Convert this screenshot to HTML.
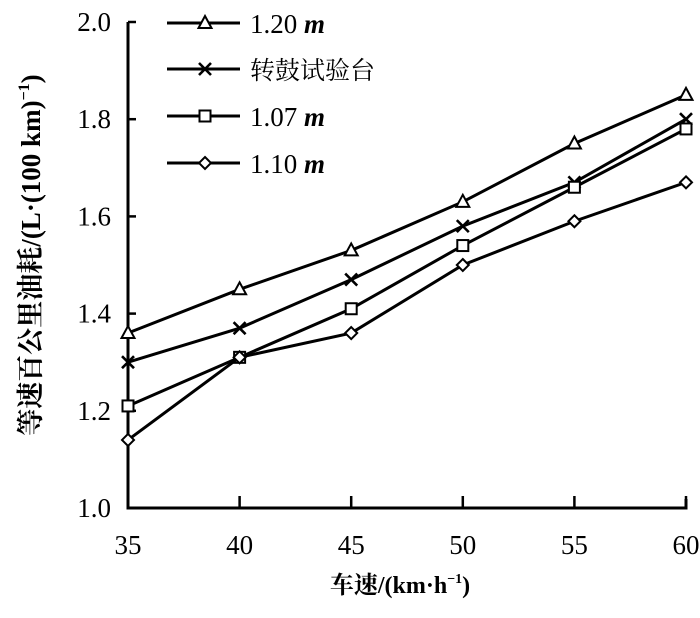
<!DOCTYPE html>
<html><head><meta charset="utf-8"><style>
html,body{margin:0;padding:0;background:#fff;}
svg text{font-family:"Liberation Serif","Noto Serif CJK SC",serif;fill:#000;}
</style></head><body>
<svg id="chart" width="700" height="613" viewBox="0 0 700 613" xmlns="http://www.w3.org/2000/svg">
<g id="axes"></g>
<g id="series"></g>
<g id="legend"></g>
<text x="400" y="593" font-size="24" font-weight="bold" text-anchor="middle">车速/(km·h<tspan font-size="14" dy="-10">−1</tspan><tspan dy="10">)</tspan></text>
<text transform="translate(40,255) rotate(-90)" font-size="27" font-weight="bold" text-anchor="middle">等速百公里油耗/(L·(100 km)<tspan font-size="16" dy="-11">−1</tspan><tspan dy="11">)</tspan></text>
</svg>
<script>
const xCategories = [35, 40, 45, 50, 55, 60];
const yTicks = [1.0, 1.2, 1.4, 1.6, 1.8, 2.0];
const yTickLabels = ["1.0", "1.2", "1.4", "1.6", "1.8", "2.0"];
const s120 = [1.36, 1.45, 1.53, 1.63, 1.75, 1.85];
const sDrum = [1.30, 1.37, 1.47, 1.58, 1.67, 1.80];
const s107 = [1.21, 1.31, 1.41, 1.54, 1.66, 1.78];
const s110 = [1.14, 1.31, 1.36, 1.50, 1.59, 1.67];
const seriesNames = ["1.20 m", "转鼓试验台", "1.07 m", "1.10 m"];

const NS = "http://www.w3.org/2000/svg";
const X0 = 128, X1 = 686, Y0 = 508, Y1 = 22;
function xs(v){ return X0 + (v - 35) / 25 * (X1 - X0); }
function ys(v){ return Y0 - (v - 1.0) / 1.0 * (Y0 - Y1); }
function mk(tag, attrs, parent){ const e = document.createElementNS(NS, tag); for (const k in attrs) e.setAttribute(k, attrs[k]); parent.appendChild(e); return e; }

const axes = document.getElementById('axes');
let a = mk('path', {d:`M${X0} ${Y1} V${Y0} H${X1} V${Y0-9}`, fill:'none', stroke:'#000', 'stroke-width':3}, axes);


yTicks.forEach((v, i) => {
  const y = ys(v);
  const t = mk('line', {x1:X0, x2:X0+8, y1:y, y2:y, stroke:'#000', 'stroke-width':2.5}, axes);
  
  
  const l = mk('text', {x:X0-17, y:y+9, 'font-size':27, 'text-anchor':'end'}, axes);
  l.textContent = yTickLabels[i];
  
  
});
xCategories.forEach(v => {
  const x = xs(v);
  const t = mk('line', {x1:x, x2:x, y1:Y0, y2:Y0-12, stroke:'#000', 'stroke-width':2.5}, axes);
  
  
  const l = mk('text', {x:x, y:Y0+46, 'font-size':27, 'text-anchor':'middle'}, axes);
  l.textContent = v;
  
  
});

function marker(type, x, y, g){
  let e;
  if (type === 'tri') e = mk('path', {d:`M${x} ${y-7} L${x+6.5} ${y+5} L${x-6.5} ${y+5} Z`, fill:'#fff', stroke:'#000', 'stroke-width':2}, g);
  else if (type === 'x') e = mk('path', {d:`M${x-6} ${y-6} L${x+6} ${y+6} M${x+6} ${y-6} L${x-6} ${y+6}`, stroke:'#000', 'stroke-width':2.6}, g);
  else if (type === 'sq') e = mk('rect', {x:x-5.5, y:y-5.5, width:11, height:11, fill:'#fff', stroke:'#000', 'stroke-width':2}, g);
  else e = mk('path', {d:`M${x} ${y-6} L${x+6} ${y} L${x} ${y+6} L${x-6} ${y} Z`, fill:'#fff', stroke:'#000', 'stroke-width':2}, g);
  
  
}

const sg = document.getElementById('series');
const allSeries = [[s120,'tri'],[sDrum,'x'],[s107,'sq'],[s110,'dia']];
allSeries.forEach(([vals, m], si) => {
  const g = mk('g', {}, sg);
  
  
  const pts = vals.map((v, i) => xs(xCategories[i]) + ',' + ys(v)).join(' ');
  const pl = mk('polyline', {points:pts, fill:'none', stroke:'#000', 'stroke-width':3}, g);
  
  
  vals.forEach((v, i) => marker(m, xs(xCategories[i]), ys(v), g));
});

const lg = document.getElementById('legend');
const rowsY = [23, 69, 116, 163];
allSeries.forEach(([vals, m], i) => {
  const y = rowsY[i];
  const g = mk('g', {}, lg);
  
  
  mk('line', {x1:167, x2:240, y1:y, y2:y, stroke:'#000', 'stroke-width':3}, g);
  marker(m, 205, y, g);
  const t = mk('text', {x:250, y:y+10, 'font-size':27}, g);
  
  
  const nm = seriesNames[i];
  if (nm.endsWith(' m')) {
    t.textContent = nm.slice(0, -1);
    const ts = document.createElementNS(NS, 'tspan');
    ts.setAttribute('font-style', 'italic');
    ts.setAttribute('font-weight', 'bold');
    ts.textContent = 'm';
    t.appendChild(ts);
  } else { t.textContent = nm; t.setAttribute('font-size', 25); }
});
</script>
</body></html>
